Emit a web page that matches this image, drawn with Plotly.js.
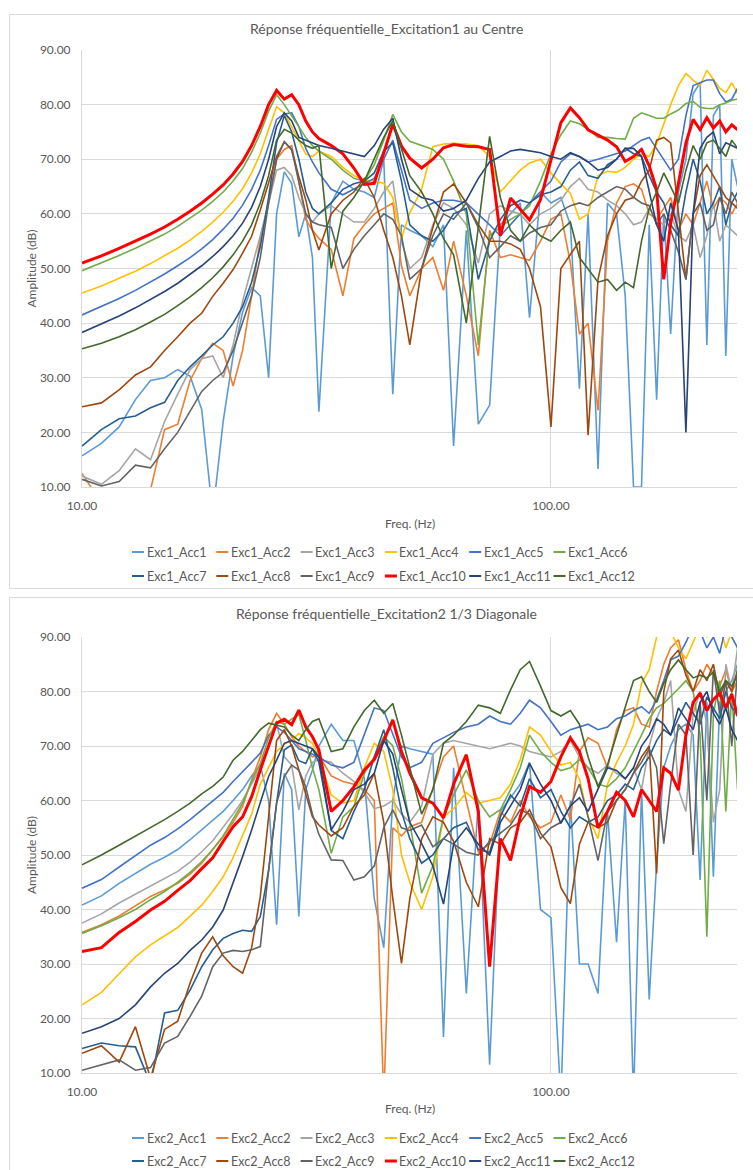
<!DOCTYPE html>
<html><head><meta charset="utf-8">
<script src="https://cdn.plot.ly/plotly-3.0.1.min.js"></script>
<style>html,body{margin:0;padding:0;background:#fff}#chart{width:753px;height:1170px}</style>
</head><body><div id="chart"></div>
<script>
// Frequency points (Hz)
const freq = [10,11,12,13,14,15,16,17,18,19,20,21,22,23,24,25,26,27,28,29,30,31,32,34,36,38,40,42,44,46,48,50,53,56,59,62,66,70,74,78,82,86,90,95,100,105,110,115,120,126,132,138,144,150,156,162,168,174,180,187,194,201,208,215,222,229,236,243,250];

// ---- Excitation 1 (au Centre), amplitude in dB ----
const exc1_acc1 = [15.7,18.0,21.0,26.0,29.5,30.0,31.5,30.3,24.2,5.0, 22.0,34.0,42.0,46.5,45.0,30.0,60.0,67.7,65.6,55.8, 60.0,52.0,23.8,62.0,66.0,64.5,64.0,63.0,70.0,27.0, 58.0,57.0,56.0,54.0,58.0,17.5,57.0,21.5,25.0,58.0, 60.0,62.0,41.0,64.0,62.0,63.0,58.0,28.0,60.0,13.3, 62.0,60.0,45.0,10.0,10.0,58.0,26.0,60.0,38.0,64.0, 70.0,82.0,84.0,36.0,78.0,80.0,34.0,70.0,65.0];
const exc1_acc2 = [12.5,7.0,9.0,6.0,9.5,20.5,21.5,29.5,33.5,36.3, 35.0,28.5,35.0,45.0,55.5,62.0,70.0,71.8,72.5,66.0, 59.0,57.0,55.5,53.5,45.0,55.5,58.0,60.0,61.0,62.0, 50.5,45.0,50.0,52.0,46.0,55.0,45.0,34.0,57.0,52.0, 52.5,52.0,51.5,55.0,59.0,60.0,51.0,38.0,40.0,24.0, 55.0,62.0,65.0,65.5,64.5,60.0,59.0,61.0,63.0,57.0, 60.0,58.0,62.0,66.0,61.0,63.0,62.0,60.0,62.0];
const exc1_acc3 = [12.0,10.5,13.0,17.0,15.0,22.0,27.0,31.5,33.5,34.0, 30.0,36.0,44.0,50.0,56.0,62.0,68.0,68.5,67.0,63.0, 60.0,58.5,60.0,61.5,60.0,58.5,58.5,61.0,64.0,66.0, 55.0,50.0,52.0,58.0,62.0,61.0,58.0,51.0,60.0,61.5, 60.5,60.0,58.0,60.0,61.0,62.5,65.0,66.5,64.5,64.0, 62.5,61.5,60.0,58.0,58.5,61.0,59.0,58.0,60.0,56.0, 55.0,58.0,52.0,56.0,62.0,55.0,58.0,57.0,56.0];
const exc1_acc4 = [45.5,46.8,48.2,49.5,50.9,52.3,53.7,55.2,56.8,58.5, 60.3,62.3,64.6,67.5,71.0,75.5,79.6,78.5,76.0,73.5, 71.0,70.5,71.5,70.5,68.5,67.0,66.2,66.0,65.6,63.0, 55.5,60.2,64.5,72.3,72.8,72.9,72.8,72.5,70.5,64.0, 66.0,68.0,69.3,70.0,67.5,65.5,63.8,59.0,60.0,67.0, 67.8,67.6,68.5,70.0,71.0,70.5,72.8,76.5,80.0,83.5, 85.7,84.5,83.5,86.3,84.5,83.0,82.2,84.0,82.0];
const exc1_acc5 = [41.5,43.0,44.5,46.0,47.5,49.0,50.5,52.0,53.6,55.3, 57.2,59.2,61.6,64.5,68.0,72.5,77.3,78.3,78.5,76.0, 72.0,69.5,67.5,64.5,63.5,64.5,65.5,66.5,70.0,73.5, 68.0,62.5,61.0,62.0,62.5,62.5,62.0,60.0,58.0,56.0, 58.0,60.0,62.0,64.0,66.0,69.5,71.0,70.5,69.5,70.0, 70.5,71.0,71.5,72.5,73.5,74.0,72.0,70.0,68.0,70.0, 78.0,83.5,84.0,84.5,84.5,82.0,80.5,81.0,83.0];
const exc1_acc6 = [49.6,51.0,52.4,53.7,55.0,56.3,57.7,59.2,60.7,62.3, 64.0,66.0,68.3,71.3,74.8,78.8,81.8,80.0,78.0,76.0, 74.0,72.5,71.5,70.0,68.0,66.5,66.0,69.0,73.5,78.2, 75.0,73.3,72.5,71.8,70.0,66.0,60.0,36.0,56.0,57.5, 59.0,60.0,61.5,66.0,71.0,74.5,77.0,76.5,75.5,74.0, 74.0,73.8,73.7,77.5,78.5,78.0,77.5,77.5,78.3,79.0, 80.2,80.6,79.5,79.3,79.3,80.0,80.3,80.8,81.0];
const exc1_acc7 = [17.5,20.5,22.5,23.0,24.5,25.5,29.5,32.0,34.0,36.0, 37.5,40.0,43.0,47.5,54.0,63.0,73.0,78.0,75.0,70.0, 64.0,61.0,60.0,62.0,64.5,65.5,66.0,67.5,71.5,73.0, 66.0,58.0,56.0,55.0,57.0,60.0,61.0,48.0,55.0,59.0, 61.5,62.5,62.0,63.5,64.0,65.0,68.0,69.5,67.0,66.5, 69.0,70.0,72.0,71.0,70.5,67.0,64.0,62.0,58.0,56.0, 64.0,70.0,66.0,60.0,62.0,65.0,58.0,62.0,64.0];
const exc1_acc8 = [24.7,25.4,27.8,30.5,32.0,35.0,37.5,40.0,41.8,44.9, 47.3,49.8,52.8,55.9,60.7,65.6,70.5,73.2,71.7,66.8, 62.6,57.0,53.4,60.0,62.5,64.0,66.5,63.0,57.0,52.0, 45.0,36.0,50.0,57.5,64.0,65.5,62.0,58.0,55.0,55.0, 54.5,53.5,50.0,43.0,21.0,50.0,52.5,55.0,19.5,48.0, 56.0,60.0,62.5,63.0,66.0,68.0,73.5,74.0,73.0,60.0, 48.0,60.0,67.0,69.0,67.0,65.0,63.0,62.0,61.0];
const exc1_acc9 = [11.4,10.2,11.0,14.0,13.5,17.0,20.0,24.0,27.5,29.5, 31.0,35.0,40.0,45.0,52.0,62.0,70.0,73.2,71.8,66.0, 60.0,58.5,58.0,57.5,50.0,53.5,56.0,58.0,60.0,59.0, 56.0,48.0,50.0,56.0,60.0,59.0,62.0,57.5,52.0,54.0, 56.0,55.0,56.5,57.5,58.0,60.5,61.5,62.0,61.5,63.0, 64.0,65.0,64.5,63.0,62.0,61.5,58.0,60.0,57.0,53.0, 48.0,60.0,62.0,57.0,58.0,63.0,60.0,64.0,62.0];
const exc1_acc10 = [51.0,52.3,53.7,55.0,56.3,57.6,59.0,60.5,62.0,63.6, 65.3,67.3,69.6,72.5,76.0,80.0,82.6,81.0,81.8,80.0, 77.0,75.0,73.8,72.5,71.0,68.4,65.4,65.6,71.2,76.4, 72.4,70.2,68.4,70.0,72.1,72.7,72.4,72.3,71.8,56.0, 62.9,60.8,58.9,62.6,70.0,76.7,79.4,77.6,75.4,74.5, 73.5,72.3,69.6,70.5,71.8,68.8,64.5,48.0,58.3,65.6, 73.0,77.3,75.4,77.6,75.7,77.0,75.0,76.3,75.4];
const exc1_acc11 = [38.3,39.8,41.3,42.8,44.3,45.8,47.3,48.9,50.5,52.2, 54.0,56.0,58.3,61.2,65.0,70.0,76.0,78.5,77.0,74.0, 73.5,73.0,72.5,72.0,71.5,71.0,70.5,72.5,75.5,77.5, 70.0,64.5,63.0,62.5,60.5,61.0,62.5,66.5,69.5,70.5, 71.5,71.8,71.5,71.2,70.5,70.0,71.2,70.5,69.5,68.0, 68.5,70.0,72.0,72.0,70.5,64.0,58.0,55.0,62.0,57.0, 20.0,60.0,72.0,74.0,75.0,71.0,73.0,72.5,72.0];
const exc1_acc12 = [35.3,36.3,37.5,38.8,40.2,41.6,43.2,44.8,46.5,48.3, 50.3,52.5,55.0,58.0,62.0,67.0,73.5,75.5,74.8,73.5, 72.5,72.0,72.5,50.0,60.5,63.0,66.0,70.0,74.0,77.0, 72.0,67.0,64.0,60.0,55.5,52.5,40.0,58.0,74.2,63.0, 57.0,55.0,58.0,56.0,55.0,57.0,58.5,52.0,50.0,47.5, 48.0,46.0,47.5,46.5,55.0,61.0,64.0,67.5,65.0,62.0, 68.0,72.5,70.0,73.0,73.5,72.0,70.5,73.5,72.0];

// ---- Excitation 2 (1/3 Diagonale), amplitude in dB ----
const exc2_acc1 = [40.8,42.5,44.8,46.6,48.3,49.6,51.0,52.8,54.6,56.3, 58.0,60.0,62.0,64.5,66.5,60.0,37.2,65.0,62.0,38.7, 62.0,65.6,70.0,74.0,71.0,71.0,64.0,42.0,33.0,60.0, 70.0,69.5,69.0,68.5,16.6,66.0,24.6,60.0,11.5,58.0, 60.5,63.0,67.0,40.0,38.5,5.0,60.0,30.0,30.0,24.6, 58.0,34.0,60.0,5.0,62.0,23.5,48.5,66.0,70.0,73.0, 74.0,72.0,45.4,78.0,46.0,78.0,80.0,82.0,85.0];
const exc2_acc2 = [35.8,37.2,38.8,40.6,42.4,43.6,44.8,46.5,48.5,51.0, 53.4,56.0,58.9,63.8,68.0,73.0,76.0,74.0,71.7,70.0, 69.0,68.0,68.3,64.5,63.5,63.0,62.0,60.0,5.0,55.0, 53.5,55.2,56.0,62.0,68.0,70.0,60.0,50.5,52.0,58.0, 56.0,60.0,57.0,55.0,56.0,61.0,56.5,69.0,71.5,70.5, 66.0,73.0,76.5,77.0,74.0,73.5,80.0,85.0,88.0,89.5, 84.0,80.0,82.0,85.0,83.0,81.0,84.0,80.0,82.0];
const exc2_acc3 = [37.5,39.2,41.2,42.8,44.2,45.6,47.0,48.7,50.6,52.6, 55.0,57.5,60.0,63.0,66.0,70.0,74.2,68.0,66.5,58.3, 64.5,67.0,67.5,67.0,65.0,63.5,61.5,58.5,59.0,60.0, 57.5,56.0,59.0,68.5,70.5,71.0,70.5,70.0,69.5,70.0, 70.5,70.0,69.0,68.5,68.0,69.0,71.0,68.0,66.0,65.0, 66.5,65.0,64.0,66.0,62.0,70.0,75.0,78.0,82.0,62.0, 58.0,76.0,80.0,74.0,56.0,62.0,85.0,80.0,88.0];
const exc2_acc4 = [22.5,24.8,28.2,31.3,33.5,35.2,36.7,38.8,40.8,43.3, 46.0,49.5,53.5,57.5,63.0,66.0,69.0,70.3,71.1,72.3, 71.5,70.5,68.0,61.0,59.5,60.0,66.0,70.5,69.0,62.0, 50.0,45.0,40.0,46.0,57.0,58.5,61.5,59.5,60.0,60.5, 63.0,67.5,73.5,72.0,69.0,66.5,67.0,64.0,57.0,53.0, 63.0,67.0,70.0,74.0,81.5,84.0,90.0,92.0,91.0,88.0, 86.0,89.0,92.0,90.0,91.0,92.0,88.0,91.0,92.0];
const exc2_acc5 = [43.9,45.5,47.8,49.9,51.8,53.2,54.8,56.5,58.2,59.8, 61.5,63.5,65.2,67.0,68.7,72.0,73.5,72.5,71.0,69.5, 69.0,68.5,68.0,66.5,66.0,67.0,72.0,77.0,76.5,72.0, 68.0,66.0,67.0,70.5,71.5,72.5,73.5,74.0,75.5,74.5, 74.0,76.0,78.4,77.0,74.5,72.0,73.0,73.5,74.0,73.0, 73.5,75.0,75.5,76.5,77.2,76.0,78.5,82.0,85.8,86.5, 89.0,92.0,91.0,88.0,90.0,87.0,92.0,90.0,88.0];
const exc2_acc6 = [35.6,37.0,38.5,40.0,41.8,43.3,45.0,46.8,48.8,51.0, 53.5,56.5,59.5,63.5,66.8,71.5,74.5,74.0,75.0,75.8, 71.0,66.0,62.0,50.3,57.0,58.9,65.0,68.0,71.7,70.0, 64.0,56.0,43.0,48.0,57.0,61.0,65.6,60.0,57.0,58.3, 62.0,66.0,72.0,69.0,67.0,65.5,66.0,67.5,66.0,63.0, 62.5,64.0,66.0,69.0,72.0,75.0,77.0,77.8,79.0,80.5, 82.0,80.0,72.0,35.0,76.0,82.0,58.0,80.0,62.0];
const exc2_acc7 = [14.5,15.5,15.0,14.8,8.0,21.0,21.5,25.2,29.5,32.6, 34.7,35.6,36.2,36.0,38.7,47.2,59.5,69.3,70.2,67.3, 66.8,69.5,67.0,54.5,53.0,58.0,62.0,68.0,73.0,66.0, 58.0,53.0,48.5,50.0,53.0,55.0,56.0,51.0,50.5,57.0, 61.0,59.0,64.0,60.5,62.0,58.0,55.0,57.0,56.0,57.0, 60.0,61.0,63.0,62.0,66.0,68.0,71.0,73.0,72.0,75.0, 78.0,76.0,74.0,79.0,77.0,75.0,80.0,77.0,76.0];
const exc2_acc8 = [13.6,15.0,12.0,18.5,9.0,18.0,19.5,26.5,32.0,35.0, 31.5,29.5,28.3,33.0,42.4,57.6,71.0,73.0,70.0,65.6, 61.0,57.0,55.5,53.5,55.0,59.0,61.0,65.0,56.0,42.0, 30.1,42.0,53.0,57.0,56.0,52.5,45.0,40.5,53.0,52.0, 55.0,56.0,58.3,54.0,51.5,44.0,41.1,52.0,56.0,55.0, 56.0,60.0,62.0,65.0,68.0,70.0,46.6,80.0,86.0,87.6, 83.0,80.0,84.0,82.0,85.0,79.0,82.0,80.0,84.0];
const exc2_acc9 = [10.5,11.5,12.4,10.5,11.0,15.5,16.7,20.4,24.1,29.5, 32.0,32.5,32.3,32.6,33.2,47.2,59.5,64.4,66.5,65.6, 62.5,57.5,53.8,49.1,49.0,45.4,46.0,48.0,55.0,58.3, 55.0,54.5,55.5,51.5,53.0,52.0,50.5,50.0,52.5,54.0, 55.5,58.3,57.5,53.0,55.0,56.0,59.0,63.0,57.0,49.0, 58.0,60.0,62.0,65.0,67.0,69.5,66.0,52.1,63.0,74.0, 72.0,50.0,78.0,60.0,84.0,76.0,82.0,70.0,84.0];
const exc2_acc10 = [32.3,33.0,35.8,37.8,39.9,41.5,43.5,45.3,47.5,49.5, 52.5,55.2,57.0,60.7,65.6,70.2,74.2,74.9,73.9,76.6, 73.5,71.7,69.3,58.0,60.0,62.5,65.6,67.5,71.0,74.8, 69.0,65.0,60.5,59.5,56.8,63.0,68.4,58.0,29.5,53.0, 49.0,57.0,62.6,61.5,63.5,68.0,71.5,69.0,64.0,55.0, 58.0,61.5,60.0,57.0,62.0,60.0,58.0,66.0,65.0,61.9, 72.0,78.0,79.7,76.5,78.5,79.7,77.0,79.5,75.5];
const exc2_acc11 = [17.3,18.5,20.0,22.5,25.8,28.3,30.1,32.5,34.4,36.8, 39.9,44.8,49.7,54.6,59.5,64.4,67.4,70.5,71.0,70.5, 70.0,69.5,68.0,54.6,58.0,62.0,63.0,65.0,71.0,68.5, 62.0,56.0,52.1,48.0,41.0,52.0,55.0,52.0,50.0,56.0, 59.0,62.0,66.8,63.0,60.0,55.8,59.0,60.5,58.0,62.0, 66.0,65.5,64.0,66.0,70.0,72.0,75.0,74.0,72.0,77.0, 75.0,73.0,78.0,80.0,76.0,74.0,77.0,73.0,71.0];
const exc2_acc12 = [48.2,50.0,51.8,53.5,55.0,56.5,58.0,59.5,61.2,62.6, 64.3,67.4,69.0,71.0,73.0,74.2,73.8,73.5,72.0,71.0, 73.0,74.5,75.0,69.0,69.5,73.5,76.5,78.4,76.0,77.8, 72.0,66.0,57.5,62.0,70.5,72.0,74.5,77.5,77.0,76.0, 80.3,84.0,85.5,81.0,76.5,75.5,76.5,74.0,68.0,62.5, 66.5,72.0,77.0,82.0,82.7,80.0,78.0,81.5,84.0,85.8, 84.0,82.5,83.0,82.5,83.5,80.0,82.0,81.0,83.0];

const accNames = ['Acc1','Acc2','Acc3','Acc4','Acc5','Acc6','Acc7','Acc8','Acc9','Acc10','Acc11','Acc12'];
const exc1Series = [exc1_acc1,exc1_acc2,exc1_acc3,exc1_acc4,exc1_acc5,exc1_acc6,exc1_acc7,exc1_acc8,exc1_acc9,exc1_acc10,exc1_acc11,exc1_acc12];
const exc2Series = [exc2_acc1,exc2_acc2,exc2_acc3,exc2_acc4,exc2_acc5,exc2_acc6,exc2_acc7,exc2_acc8,exc2_acc9,exc2_acc10,exc2_acc11,exc2_acc12];
const titles = ['Réponse fréquentielle_Excitation1 au Centre','Réponse fréquentielle_Excitation2 1/3 Diagonale'];
const xTitle = 'Freq. (Hz)';
const yTitle = 'Amplitude (dB)';
const xTickVals = [10,100];
const xTickText = ['10.00','100.00'];

// ---- styling ----
const colors = ['#5B9BD5','#ED7D31','#A5A5A5','#FFC000','#4472C4','#70AD47','#255E91','#9E480E','#636363','#FF0000','#264478','#43682B'];
const W = 753, H = 1170;
const px = v => v / W;
const py = v => 1 - v / H;
const FONT = 'Lato, "Open Sans", "DejaVu Sans", sans-serif';
const TXT = '#595959';
const GRID = '#D9D9D9';

const panels = [
  {series: exc1Series, prefix: 'Exc1_', xa: 'x', ya: 'y', plotTop: 50, plotBot: 487, frameTop: 14.5, frameBot: 588.5, titleY: 28, xTitleY: 523, legY: [552, 576]},
  {series: exc2Series, prefix: 'Exc2_', xa: 'x2', ya: 'y2', plotTop: 637, plotBot: 1073, frameTop: 597.5, frameBot: 1200, titleY: 613, xTitleY: 1108, legY: [1138, 1161]}
];
const plotLeft = 82, plotRight = 737;

const traces = [];
const shapes = [];
const annotations = [];
panels.forEach(p => {
  p.series.forEach((ys, i) => {
    traces.push({
      x: freq, y: ys, type: 'scatter', mode: 'lines', name: p.prefix + accNames[i],
      xaxis: p.xa, yaxis: p.ya, showlegend: false, hoverinfo: 'x+y+name',
      line: {color: colors[i], width: i === 9 ? 3 : 1.6}
    });
  });
  shapes.push({type: 'rect', xref: 'paper', yref: 'paper', x0: px(9.5), x1: px(800), y0: py(p.frameTop), y1: py(p.frameBot),
    line: {color: GRID, width: 1}, fillcolor: 'rgba(0,0,0,0)', layer: 'below'});
  annotations.push({xref: 'paper', yref: 'paper', x: px(386), y: py(p.titleY), text: titles[panels.indexOf(p)], showarrow: false,
    xanchor: 'center', yanchor: 'middle', font: {family: FONT, size: 14, color: TXT}});
  annotations.push({xref: 'paper', yref: 'paper', x: px(410), y: py(p.xTitleY), text: xTitle, showarrow: false,
    xanchor: 'center', yanchor: 'middle', font: {family: FONT, size: 12, color: TXT}});
  annotations.push({xref: 'paper', yref: 'paper', x: px(31), y: py((p.plotTop + p.plotBot) / 2), text: yTitle, showarrow: false,
    textangle: -90, xanchor: 'center', yanchor: 'middle', font: {family: FONT, size: 12, color: TXT}});
  // legend: two rows of six entries
  accNames.forEach((n, i) => {
    const row = Math.floor(i / 6), col = i % 6;
    const x0 = 132 + col * 84.3;
    const yy = p.legY[row];
    shapes.push({type: 'line', xref: 'paper', yref: 'paper', x0: px(x0), x1: px(x0 + 12), y0: py(yy), y1: py(yy),
      line: {color: colors[i], width: i === 9 ? 3 : 2}});
    annotations.push({xref: 'paper', yref: 'paper', x: px(x0 + 12.5), y: py(yy), text: p.prefix + n, showarrow: false,
      xanchor: 'left', yanchor: 'middle', font: {family: FONT, size: 12.5, color: TXT}});
  });
});

function xAxis(anchor) {
  return {type: 'log', domain: [px(plotLeft), px(plotRight)], range: [1, Math.log10(249.3)], anchor: anchor,
    tickvals: xTickVals, ticktext: xTickText, showgrid: true, gridcolor: GRID, gridwidth: 1, zeroline: false,
    showline: true, linecolor: GRID, linewidth: 1, ticks: '', ticklabelstandoff: 8,
    tickfont: {family: FONT, size: 12, color: TXT}, fixedrange: true};
}
function yAxis(anchor, top, bot) {
  return {domain: [py(bot), py(top)], range: [10, 90], tick0: 10, dtick: 10, tickformat: '.2f', anchor: anchor,
    showgrid: true, gridcolor: GRID, gridwidth: 1, zeroline: false, showline: true, linecolor: GRID, linewidth: 1,
    ticks: '', ticklabelstandoff: 8, tickfont: {family: FONT, size: 12, color: TXT}, fixedrange: true};
}

const layout = {
  width: W, height: H, margin: {l: 0, r: 0, t: 0, b: 0},
  paper_bgcolor: '#ffffff', plot_bgcolor: '#ffffff',
  font: {family: FONT, color: TXT, size: 12},
  showlegend: false,
  xaxis: xAxis('y'), yaxis: yAxis('x', panels[0].plotTop, panels[0].plotBot),
  xaxis2: xAxis('y2'), yaxis2: yAxis('x2', panels[1].plotTop, panels[1].plotBot),
  shapes: shapes, annotations: annotations
};

Plotly.newPlot('chart', traces, layout, {displayModeBar: false, staticPlot: true});
</script>
</body></html>
